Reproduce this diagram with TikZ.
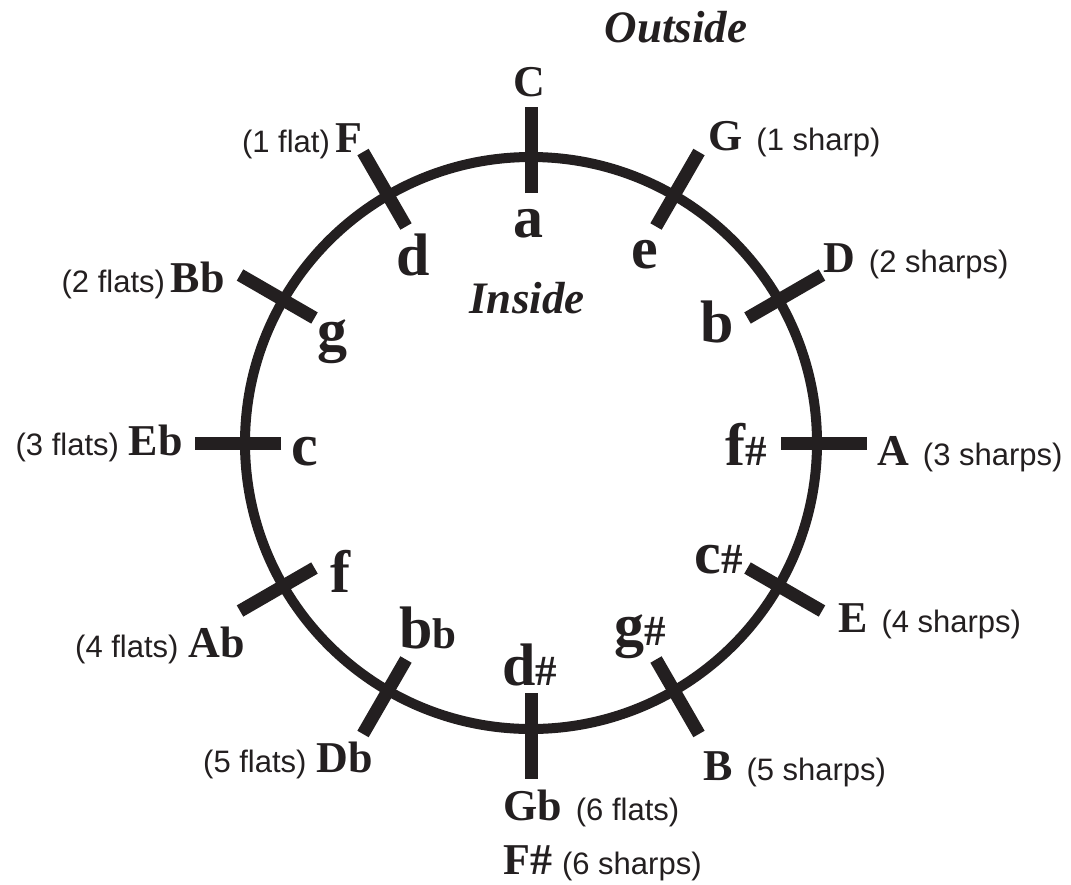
\documentclass[tikz,border=0pt]{standalone}
\usepackage{fontspec}
\usetikzlibrary{calc}
\setmainfont{Liberation Serif}
\newfontfamily\sansf{Liberation Sans}
\definecolor{ink}{HTML}{231F20}
\newcommand\keynote[1]{{\normalfont\sansf\fontsize{31}{31}\selectfont #1}}
\newcommand\acc[1]{{\fontsize{43}{43}\selectfont #1}}
\begin{document}
\begin{tikzpicture}[x=1pt,y=-1pt,
  outer/.style={font=\fontsize{44}{44}\selectfont\bfseries, text=ink, inner sep=0pt},
  innerkey/.style={font=\fontsize{60}{60}\selectfont\bfseries, text=ink, inner sep=0pt, anchor=base},
  title/.style={font=\fontsize{45}{45}\selectfont\bfseries\itshape, text=ink, inner sep=0pt, anchor=base},
  ring/.style={draw=ink, line width=10pt},
  tick/.style={draw=ink, line width=13pt, line cap=butt}]
\useasboundingbox (0,0) rectangle (1071,884);
\coordinate (O) at (531,443);
\draw[ring] (O) circle[radius=286];
\foreach \ang in {0,30,...,330}{
  \draw[tick] ($(O)+(\ang:250pt)$) -- ($(O)+(\ang:336pt)$);
}
% titles
\node[title] (outside) at (676,42) {Outside};
\node[title] (inside) at (527,313) {Inside};
% outer keys
\node[outer, anchor=base] (C) at (529,96) {C};
\node[outer, anchor=base west] (G) at (708,150) {G\hspace{14pt}\keynote{(1 sharp)}};
\node[outer, anchor=base west] (D) at (823,272) {D\hspace{14pt}\keynote{(2 sharps)}};
\node[outer, anchor=base west] (A) at (877,465) {A\hspace{14pt}\keynote{(3 sharps)}};
\node[outer, anchor=base west] (E) at (838,632) {E\hspace{14pt}\keynote{(4 sharps)}};
\node[outer, anchor=base west] (B) at (703,780) {B\hspace{14pt}\keynote{(5 sharps)}};
\node[outer, anchor=base west] (Gb) at (503,820) {Gb\hspace{14pt}\keynote{(6 flats)}};
\node[outer, anchor=base west] (Fs) at (503,874) {F\#\hspace{10pt}\keynote{(6 sharps)}};
\node[outer, anchor=base east] (F) at (363,152) {\keynote{(1 flat)}\hspace{6pt}F};
\node[outer, anchor=base east] (Bb) at (225,292) {\keynote{(2 flats)}\hspace{6pt}Bb};
\node[outer, anchor=base east] (Eb) at (183,455) {\keynote{(3 flats)}\hspace{10pt}Eb};
\node[outer, anchor=base east] (Ab) at (245,657) {\keynote{(4 flats)}\hspace{10pt}Ab};
\node[outer, anchor=base east] (Db) at (373,772) {\keynote{(5 flats)}\hspace{10pt}Db};
% inner keys
\node[innerkey] (a) at (528,237) {a};
\node[innerkey] (e) at (645,268) {e};
\node[innerkey] (b) at (717,342) {b};
\node[innerkey] (fs) at (746,465) {f\acc{\#}};
\node[innerkey] (cs) at (719,573) {c\acc{\#}};
\node[innerkey] (gs) at (640,645) {g\acc{\#}};
\node[innerkey] (ds) at (530,685) {d\acc{\#}};
\node[innerkey] (bb) at (428,648) {b\acc{b}};
\node[innerkey] (f) at (340,592) {f};
\node[innerkey] (c) at (305,465) {c};
\node[innerkey] (g) at (332,350) {g};
\node[innerkey] (d) at (413,275) {d};
\end{tikzpicture}
\end{document}
